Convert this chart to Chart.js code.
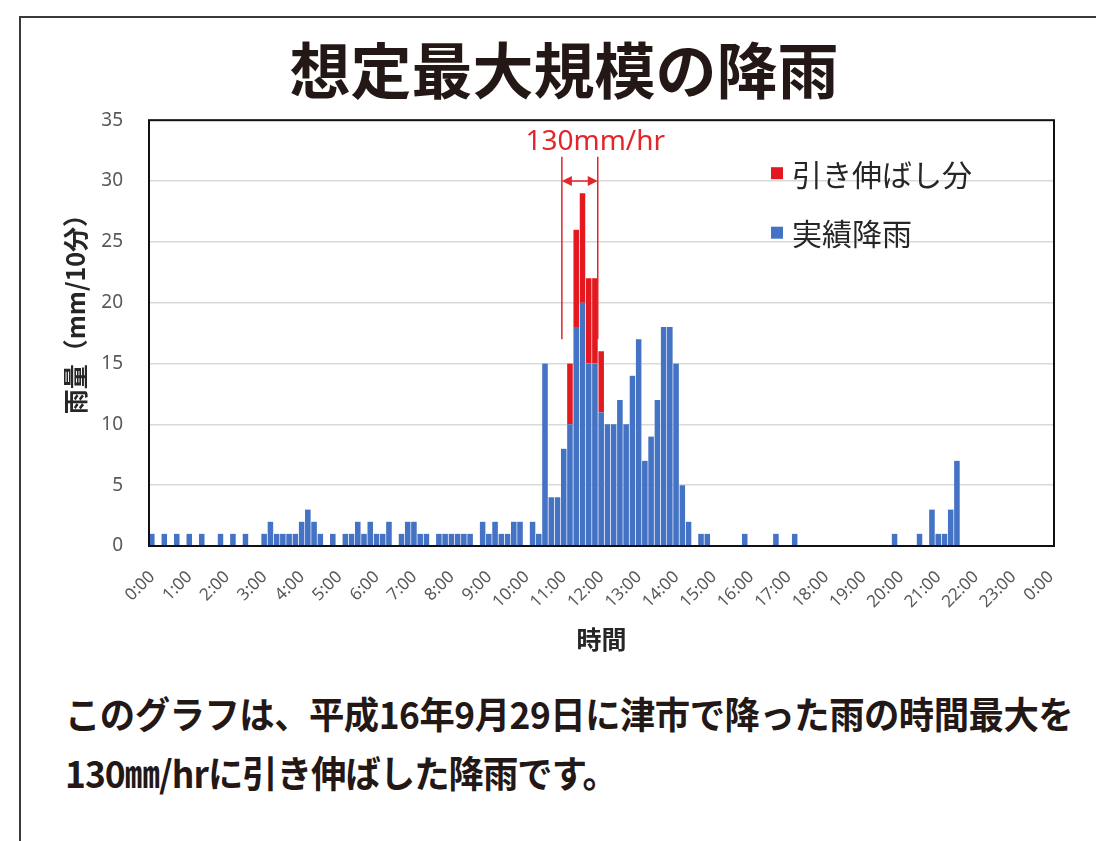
<!DOCTYPE html>
<html lang="ja">
<head>
<meta charset="utf-8">
<script src="https://cdn.jsdelivr.net/npm/chart.js@4.4.1/dist/chart.umd.min.js"></script>
<style>
html, body { margin: 0; padding: 0; background: #fff; overflow: hidden; }
body { width: 1096px; height: 841px; position: relative; }
#frame { position: absolute; left: 19px; top: 16px; width: 1200px; height: 1000px; border: 2px solid #3a3a3a; box-sizing: border-box; }
#wrap { position: absolute; left: 0; top: 0; width: 1096px; height: 680px; }
#note { position: absolute; left: 65px; top: 684px; margin: 0; font-family: 'Noto Sans CJK JP', sans-serif; font-weight: 700; font-size: 37px; line-height: 59px; color: #231815; white-space: nowrap; letter-spacing: -0.5px; transform: scaleX(0.955); transform-origin: 0 0; }
#note .l2 { letter-spacing: -1px; }
</style>
</head>
<body>
<div id="frame"></div>
<div id="wrap"><canvas id="rainChart"></canvas></div>
<p id="note">このグラフは、平成16年9月29日に津市で降った雨の時間最大を<br><span class="l2">130㎜/hrに引き伸ばした降雨です。</span></p>
<script>
// hour labels, one every 6 slots of 10 minutes
const hourLabels = ['0:00', '1:00', '2:00', '3:00', '4:00', '5:00', '6:00', '7:00', '8:00', '9:00', '10:00', '11:00',
	'12:00', '13:00', '14:00', '15:00', '16:00', '17:00', '18:00', '19:00', '20:00', '21:00', '22:00', '23:00', '0:00'];

// observed rain (mm/10min), one row per hour
const observed = [
	1, 0, 1, 0, 1, 0,
	1, 0, 1, 0, 0, 1,
	0, 1, 0, 1, 0, 0,
	1, 2, 1, 1, 1, 1,
	2, 3, 2, 1, 0, 1,
	0, 1, 1, 2, 1, 2,
	1, 1, 2, 0, 1, 2,
	2, 1, 1, 0, 1, 1,
	1, 1, 1, 1, 0, 2,
	1, 2, 1, 1, 2, 2,
	0, 2, 1, 15, 4, 4,
	8, 10, 18, 20, 15, 15,
	11, 10, 10, 12, 10, 14,
	17, 7, 9, 12, 18, 18,
	15, 5, 2, 0, 1, 1,
	0, 0, 0, 0, 0, 1,
	0, 0, 0, 0, 1, 0,
	0, 1, 0, 0, 0, 0,
	0, 0, 0, 0, 0, 0,
	0, 0, 0, 0, 0, 1,
	0, 0, 0, 1, 0, 3,
	1, 1, 3, 7, 0, 0,
	0, 0, 0, 0, 0, 0,
	0, 0, 0, 0, 0, 0,
	0
];

// extra amount added on top to reach 130mm/hr
const stretched = [
	0, 0, 0, 0, 0, 0,
	0, 0, 0, 0, 0, 0,
	0, 0, 0, 0, 0, 0,
	0, 0, 0, 0, 0, 0,
	0, 0, 0, 0, 0, 0,
	0, 0, 0, 0, 0, 0,
	0, 0, 0, 0, 0, 0,
	0, 0, 0, 0, 0, 0,
	0, 0, 0, 0, 0, 0,
	0, 0, 0, 0, 0, 0,
	0, 0, 0, 0, 0, 0,
	0, 5, 8, 9, 7, 7,
	5, 0, 0, 0, 0, 0,
	0, 0, 0, 0, 0, 0,
	0, 0, 0, 0, 0, 0,
	0, 0, 0, 0, 0, 0,
	0, 0, 0, 0, 0, 0,
	0, 0, 0, 0, 0, 0,
	0, 0, 0, 0, 0, 0,
	0, 0, 0, 0, 0, 0,
	0, 0, 0, 0, 0, 0,
	0, 0, 0, 0, 0, 0,
	0, 0, 0, 0, 0, 0,
	0, 0, 0, 0, 0, 0,
	0
];

const yTicks = [0, 5, 10, 15, 20, 25, 30, 35];

// the 130mm/hr bracket (category index positions and rain levels)
const bracketFrom = 65.65;
const bracketTo = 71.4;
const bracketTop = 32;
const bracketBottom = 17;
const arrowLevel = 30;

const categories = observed.map((v, i) => i % 6 === 0 ? hourLabels[i / 6] : '');

const latin = "'Noto Sans', 'Noto Sans CJK JP', sans-serif";
const cjk = "'Noto Sans CJK JP', sans-serif";

const extras = {
	id: 'extras',
	afterDatasetsDraw(chart) {
		const {ctx, chartArea: a, scales: {x, y}} = chart;
		ctx.save();

		// plot frame
		ctx.strokeStyle = '#111';
		ctx.lineWidth = 2;
		ctx.strokeRect(a.left, a.top, a.right - a.left, a.bottom - a.top);

		// bracket
		const xl = x.getPixelForValue(bracketFrom);
		const xr = x.getPixelForValue(bracketTo);
		const yt = y.getPixelForValue(bracketTop);
		const yb = y.getPixelForValue(bracketBottom);
		const ya = y.getPixelForValue(arrowLevel);
		ctx.strokeStyle = '#e3262b';
		ctx.fillStyle = '#e3262b';
		ctx.lineWidth = 1.5;
		ctx.beginPath();
		ctx.moveTo(xl, yt); ctx.lineTo(xl, yb);
		ctx.moveTo(xr, yt); ctx.lineTo(xr, yb);
		ctx.moveTo(xl + 6, ya); ctx.lineTo(xr - 6, ya);
		ctx.stroke();
		ctx.beginPath();
		ctx.moveTo(xl, ya); ctx.lineTo(xl + 10, ya - 5); ctx.lineTo(xl + 10, ya + 5); ctx.closePath();
		ctx.moveTo(xr, ya); ctx.lineTo(xr - 10, ya - 5); ctx.lineTo(xr - 10, ya + 5); ctx.closePath();
		ctx.fill();
		ctx.font = '28px ' + latin;
		ctx.textAlign = 'center';
		ctx.textBaseline = 'middle';
		ctx.fillText('130mm/hr', x.getPixelForValue(71), y.getPixelForValue(33.2));

		ctx.restore();
	},
	afterDraw(chart) {
		const {ctx, chartArea: a} = chart;
		ctx.save();

		// legend inside the plot, top entry = top of the stack
		const sets = chart.data.datasets.slice().reverse();
		ctx.font = '30px ' + cjk;
		ctx.textBaseline = 'middle';
		ctx.textAlign = 'left';
		sets.forEach((ds, k) => {
			const cy = a.top + 53 + k * 59.5;
			ctx.fillStyle = ds.backgroundColor;
			ctx.fillRect(a.left + 622, cy - 6, 12, 12);
			ctx.fillStyle = '#262626';
			ctx.fillText(ds.label, a.left + 643, cy + 1);
		});

		// y axis title
		ctx.translate(75, (a.top + a.bottom) / 2 - 25);
		ctx.rotate(-Math.PI / 2);
		ctx.textAlign = 'center';
		ctx.font = 'bold 25px ' + cjk;
		ctx.fillStyle = '#262626';
		ctx.fillText('雨量（mm/10分）', 0, 0);

		ctx.restore();
	}
};

new Chart(document.getElementById('rainChart'), {
	type: 'bar',
	data: {
		labels: categories,
		datasets: [{
			label: '実績降雨',
			data: observed,
			backgroundColor: '#4472c4',
			borderColor: 'rgba(255,255,255,0.45)',
			borderWidth: {left: 0, right: 1, top: 0, bottom: 0},
			borderSkipped: false,
			categoryPercentage: 1,
			barPercentage: 1
		}, {
			label: '引き伸ばし分',
			data: stretched,
			backgroundColor: '#e3191f',
			borderColor: 'rgba(255,255,255,0.35)',
			borderWidth: {left: 0, right: 1, top: 0, bottom: 0},
			borderSkipped: false,
			categoryPercentage: 1,
			barPercentage: 1
		}]
	},
	options: {
		responsive: true,
		maintainAspectRatio: false,
		animation: false,
		layout: {
			padding: {left: 74, right: 42, top: 0, bottom: 14}
		},
		plugins: {
			legend: {display: false},
			tooltip: {enabled: false},
			title: {
				display: true,
				text: '想定最大規模の降雨',
				color: '#231815',
				font: {family: cjk, size: 61, weight: 'bold', lineHeight: 1.2},
				padding: {top: 34, bottom: 13}
			}
		},
		scales: {
			x: {
				stacked: true,
				grid: {display: false},
				border: {display: false},
				ticks: {
					autoSkip: false,
					maxRotation: 45,
					minRotation: 45,
					padding: 13,
					color: '#595959',
					font: {family: latin, size: 17}
				},
				title: {
					display: true,
					text: '時間',
					color: '#262626',
					font: {family: cjk, size: 25, weight: 'bold', lineHeight: 1.2},
					padding: {top: 0, bottom: 12}
				},
				afterFit: s => { s.height = 120; }
			},
			y: {
				stacked: true,
				min: 0,
				max: 35,
				afterBuildTicks: s => { s.ticks = yTicks.map(v => ({value: v})); },
				grid: {color: '#d9d9d9', lineWidth: 1.5, drawTicks: false},
				border: {display: false},
				ticks: {
					padding: 26,
					color: '#595959',
					font: {family: latin, size: 19}
				},
				afterFit: s => { s.width = 75; }
			}
		}
	},
	plugins: [extras]
});
</script>
</body>
</html>
